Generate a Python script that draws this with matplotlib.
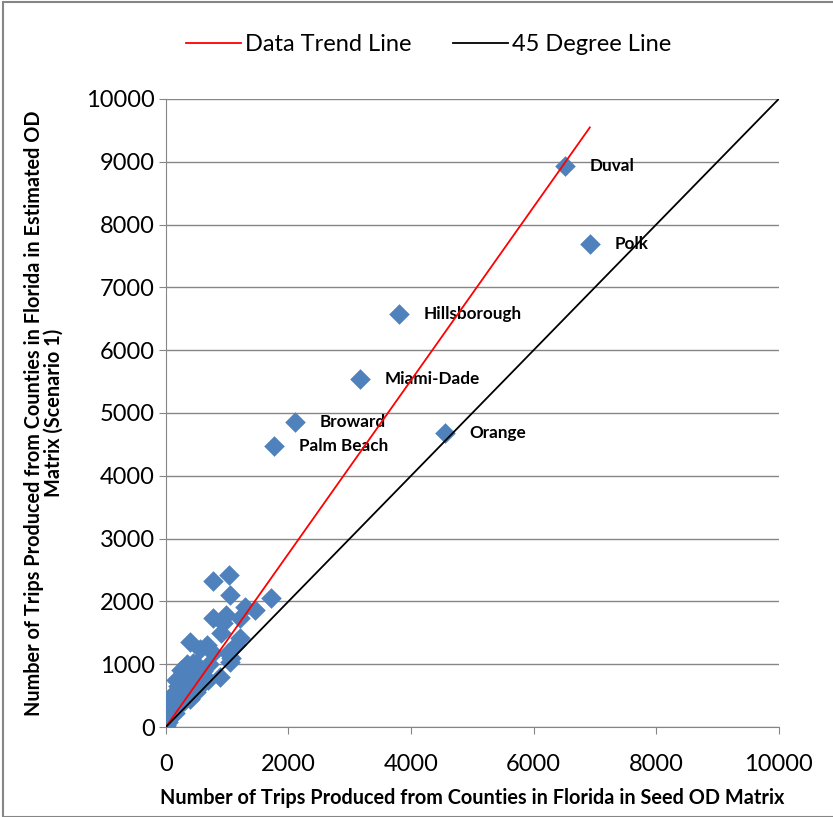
import matplotlib.pyplot as plt
from matplotlib.patches import Rectangle

# Labeled counties (seed OD trips, estimated OD trips)
county_names = ['Duval', 'Polk', 'Hillsborough', 'Miami-Dade', 'Broward', 'Palm Beach', 'Orange']
county_seed = [6509, 6917, 3801, 3165, 2104, 1762, 4551]
county_est = [8933, 7691, 6576, 5541, 4857, 4475, 4682]

# Remaining (unlabeled) counties
other_seed = [1028, 772, 1044, 1724, 1452, 1289, 772, 987, 1207, 933, 905, 1150, 1207,
              400, 680, 555, 772, 1044, 1069, 1015, 446, 500, 255, 282, 881, 690, 174,
              300, 350, 200, 120, 250, 400, 500, 150, 300, 65, 100, 200, 30, 11, 50, 80,
              20, 10, 5, 0, 40, 150, 120, 600, 700, 450, 350, 230, 600, 400]
other_est = [2420, 2330, 2102, 2049, 1863, 1916, 1730, 1783, 1730, 1650, 1492, 1306, 1412,
             1360, 1300, 1248, 1173, 1040, 1093, 1173, 1014, 1000, 908, 881, 801, 748, 748,
             800, 700, 650, 535, 520, 600, 560, 430, 420, 377, 300, 330, 250, 217, 150, 180,
             100, 60, 30, 10, 80, 220, 350, 900, 1000, 800, 1000, 600, 700, 450]

trend_slope = 1.38
axis_max = 10000

blue = '#4F81BD'
fig = plt.figure(figsize=(8.33, 8.17), dpi=100)
plt.rcParams['font.family'] = ['Lato', 'DejaVu Sans']
ax = fig.add_axes([0.199, 0.110, 0.736, 0.769])

ax.scatter(other_seed, other_est, marker='D', s=110, color=blue, linewidths=0, zorder=3)
ax.scatter(county_seed, county_est, marker='D', s=110, color=blue, linewidths=0, zorder=3)
for name, x, y in zip(county_names, county_seed, county_est):
    ax.annotate(name, (x, y), xytext=(18, 0), textcoords='offset points',
                va='center', ha='left', fontsize=12.3, fontweight='bold')

xmax = max(county_seed)
ax.plot([0, xmax], [0, trend_slope * xmax], color='red', lw=1.3, label='Data Trend Line', zorder=4)
ax.plot([0, axis_max], [0, axis_max], color='black', lw=1.3, label='45 Degree Line', zorder=4)

ax.set_xlim(0, axis_max)
ax.set_ylim(0, axis_max)
ax.set_xticks(range(0, axis_max + 1, 2000))
ax.set_yticks(range(0, axis_max + 1, 1000))
ax.tick_params(labelsize=17, color='#868686', length=5, pad=3)
ax.tick_params(axis='x', pad=14)
ax.grid(axis='y', color='#868686', lw=1)
ax.set_axisbelow(True)
for s in ['top', 'right']:
    ax.spines[s].set_visible(False)
for s in ['left', 'bottom']:
    ax.spines[s].set_color('#868686')

ax.set_xlabel('Number of Trips Produced from Counties in Florida in Seed OD Matrix',
              fontsize=14.3, fontweight='bold', labelpad=10)
ax.set_ylabel('Number of Trips Produced from Counties in Florida in Estimated OD\nMatrix (Scenario 1)',
              fontsize=14.3, fontweight='bold', labelpad=16, linespacing=1.0)

fig.legend(loc='center', bbox_to_anchor=(0.515, 0.945), ncol=2, frameon=False,
           fontsize=17, handlelength=2.3, columnspacing=1.75, handletextpad=0.2)

fig.patches.append(Rectangle((0.004, 0.0), 1.2, 0.997, transform=fig.transFigure,
                             fill=False, edgecolor='#868686', lw=1.5))

fig.savefig('out.png', dpi=100)
